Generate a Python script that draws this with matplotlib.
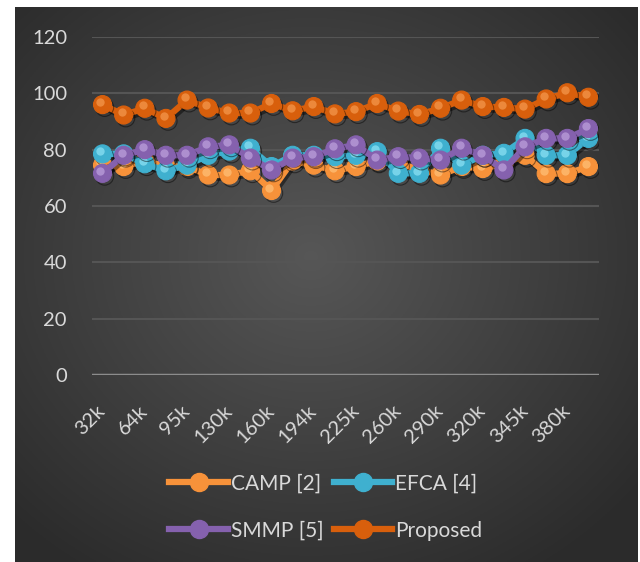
import numpy as np
import matplotlib
matplotlib.use("Agg")
import matplotlib.pyplot as plt
import matplotlib.patheffects as pe
from matplotlib.lines import Line2D
from matplotlib.transforms import offset_copy

plt.rcParams['font.family'] = ['Lato', 'DejaVu Sans']

# data (24 categories, every other one labelled)
tick_labels = ['32k', '64k', '95k', '130k', '160k', '194k', '225k',
               '260k', '290k', '320k', '345k', '380k']
camp = [74.5, 74, 76, 74, 74, 71, 71, 72.5, 65.5, 76, 74.5, 72.5,
        74, 76, 75, 73, 71, 74, 73.3, 75, 78, 71.5, 71.5, 74]
efca = [78.5, 78.5, 75, 72.5, 74.5, 78, 79.5, 80.5, 74, 78, 78, 77.5,
        78, 79.3, 71.6, 71.6, 80.5, 74.5, 78, 78.7, 84, 78, 78, 84]
smmp = [71.6, 78, 80, 78, 78, 81, 81.7, 77, 72.8, 77, 77.5, 80.3,
        81.7, 76.3, 77.5, 77, 76.3, 80.5, 78, 72.8, 81, 84, 84, 87.5]
proposed = [96, 92.3, 94.7, 91.1, 97.6, 94.8, 93, 93, 96.4, 93.8, 95.3, 92.7,
            93.5, 96.4, 93.7, 92.5, 94.7, 97.6, 95.3, 95, 94.4, 98, 100.2, 98.6]

series = [('CAMP [2]', camp, '#F7923A', '#FFC27A'),
          ('EFCA [4]', efca, '#3FB0CF', '#8FE3F5'),
          ('SMMP [5]', smmp, '#8561AE', '#BFA3DE'),
          ('Proposed', proposed, '#D85F0C', '#F59A50')]

x = np.arange(len(camp))

fig = plt.figure(figsize=(6.4, 5.62), dpi=100)
fig.patch.set_facecolor('white')

# dark panel with radial gradient
bg = fig.add_axes([15/640, 0, 623/640, 555/562])
bg.set_axis_off()
gx, gy = np.meshgrid(np.linspace(-1, 1, 300), np.linspace(-1, 1, 300))
r = np.clip(np.sqrt((gx + 0.05)**2 + (gy + 0.1)**2) / 1.35, 0, 1)
shade = 0.34 - 0.17 * r
bg.imshow(np.dstack([shade, shade, shade]), aspect='auto', extent=[0, 1, 0, 1])

ax = fig.add_axes([92/640, 1 - 375/562, 507/640, 338/562])
ax.patch.set_alpha(0)
ax.set_xlim(-0.5, len(x) - 0.5)
ax.set_ylim(0, 120)
ax.set_yticks(np.arange(0, 121, 20))
ax.yaxis.grid(True, color='#555555', lw=1.5)
ax.axhline(0, color='#8C8C8C', lw=2.5, zorder=1)
for s in ax.spines.values():
    s.set_visible(False)
ax.tick_params(length=0, colors='#D9D9D9', labelsize=14.5)
ax.tick_params(axis='y', pad=18)
ax.set_xticks(x[::2])
ax.set_xticklabels(tick_labels, rotation=45, ha='right', va='center',
                   rotation_mode='anchor', fontsize=14.5)
ax.tick_params(axis='x', pad=24)
ax.set_axisbelow(True)

shadow = [pe.SimpleLineShadow(offset=(1.5, -2), alpha=0.45, shadow_color='black'),
          pe.Normal()]
hl = offset_copy(ax.transData, fig=fig, x=-1.5, y=2, units='points')
handles = {}
for i, (name, vals, col, light) in enumerate(series):
    ax.plot(x, vals, color=col, lw=4.5, marker='o', ms=13,
            mfc=col, mec=col, mew=0.8, zorder=3 + i, path_effects=shadow)
    ax.plot(x, vals, ls='none', marker='o', ms=6, mfc=light, mec='none',
            alpha=0.7, transform=hl, zorder=3 + i)
    handles[name] = Line2D([], [], color=col, lw=4.5, marker='o', ms=13,
                           mfc=col, mec=col)

# legend fills column-wise, so order gives rows CAMP/EFCA and SMMP/Proposed
order = ['CAMP [2]', 'SMMP [5]', 'EFCA [4]', 'Proposed']
fig.legend([handles[n] for n in order], order, loc='center', ncol=2,
           bbox_to_anchor=(326/640, 1 - 507/562), frameon=False,
           fontsize=15, labelcolor='#D9D9D9', handlelength=2.8,
           handletextpad=0.15, columnspacing=0.5, labelspacing=1.3,
           numpoints=1)

fig.savefig('out.png', dpi=100, facecolor=fig.get_facecolor())
